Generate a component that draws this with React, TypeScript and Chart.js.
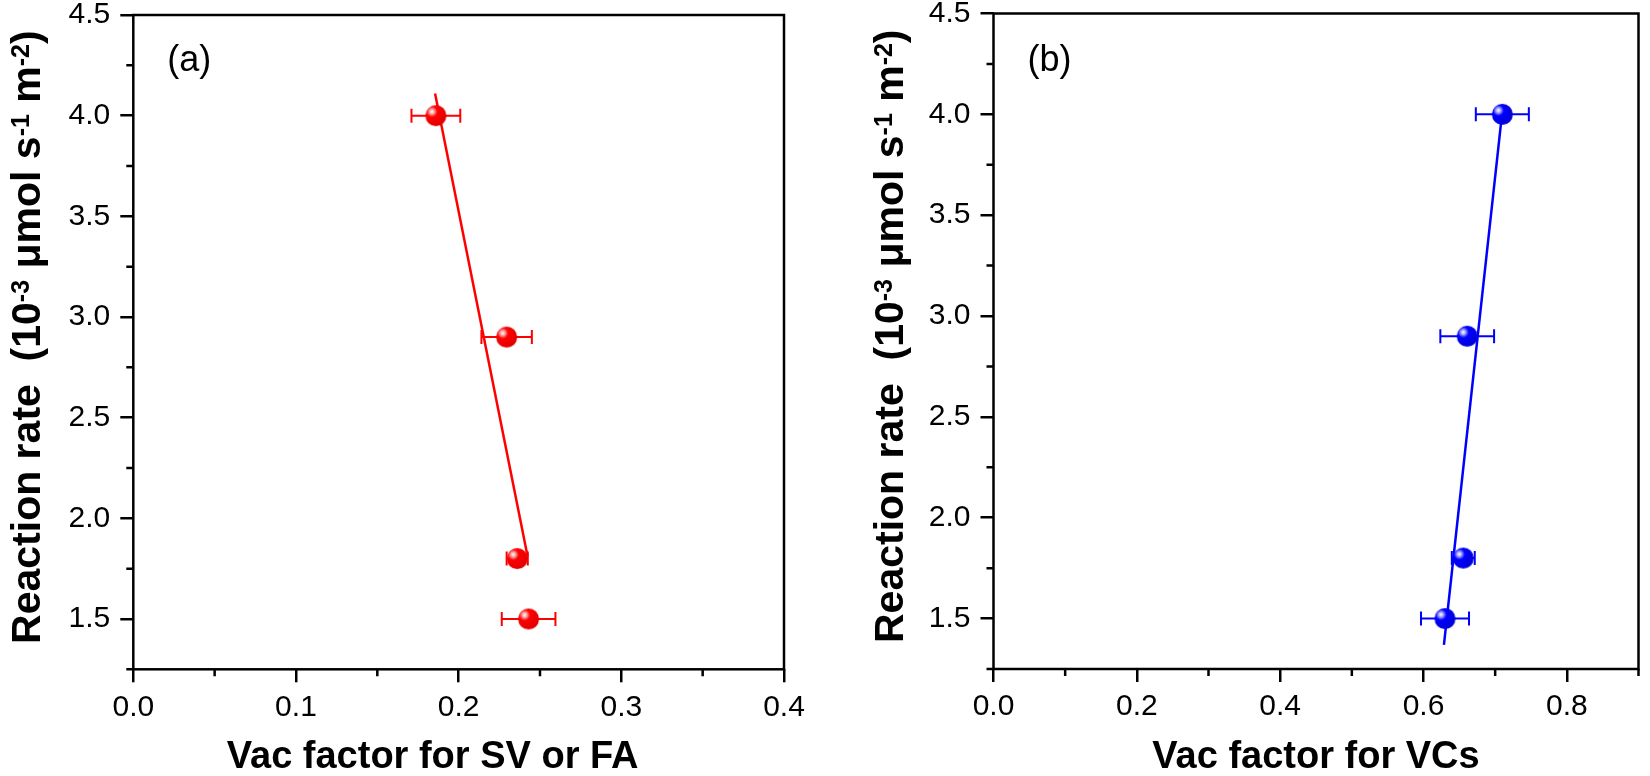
import { useEffect, useRef } from "react";
import { Chart, registerables } from "chart.js";

Chart.register(...registerables);

// ---------- data ----------
const yTickValues = [1.5, 2.0, 2.5, 3.0, 3.5, 4.0, 4.5];
const yMinorValues = [1.25, 1.75, 2.25, 2.75, 3.25, 3.75, 4.25];
const rateValues = [4.0, 2.9, 1.8, 1.5];

const xTicksA = [0, 0.1, 0.2, 0.3, 0.4];
const xMinorA = [0.05, 0.15, 0.25, 0.35];
const vacSVFA = [0.186, 0.2295, 0.236, 0.243];
const vacSVFAErr = [0.015, 0.0155, 0.0065, 0.0165];
const fitAX = [0.1855, 0.2424];
const fitAY = [4.11, 1.81];

const xTicksB = [0, 0.2, 0.4, 0.6, 0.8];
const xMinorB = [0.1, 0.3, 0.5, 0.7, 0.9];
const vacVCs = [0.71, 0.661, 0.6555, 0.63];
const vacVCsErr = [0.037, 0.0375, 0.016, 0.0335];
const fitBX = [0.6285, 0.7095];
const fitBY = [1.37, 4.0];

const yTitleRuns: [string, boolean][] = [
  ["Reaction rate  (10", false],
  ["-3", true],
  [" \u03bcmol s", false],
  ["-1", true],
  [" m", false],
  ["-2", true],
  [")", false],
];

// ---------- styling ----------
const FONT = "'Liberation Sans', Arial, Helvetica, sans-serif";
const CANVAS_H = 776;

function makeSphere(base: string, light: string, dark: string, r: number) {
  const size = Math.ceil(r * 2 + 2);
  const c = document.createElement("canvas");
  c.width = size;
  c.height = size;
  const ctx = c.getContext("2d")!;
  const cx = size / 2;
  const cy = size / 2;
  const hx = cx - r * 0.38;
  const hy = cy - r * 0.38;
  const g = ctx.createRadialGradient(hx, hy, 0, hx, hy, r * 1.45);
  g.addColorStop(0, "#ffffff");
  g.addColorStop(0.13, light);
  g.addColorStop(0.36, base);
  g.addColorStop(1, dark);
  ctx.fillStyle = g;
  ctx.beginPath();
  ctx.arc(cx, cy, r, 0, Math.PI * 2);
  ctx.fill();
  return c;
}

const decorPlugin = {
  id: "decor",
  beforeDatasetsDraw(chart: any, _args: any, opts: any) {
    const { ctx } = chart;
    const xs = chart.scales.x;
    const ys = chart.scales.y;
    ctx.save();
    ctx.strokeStyle = opts.color;
    ctx.lineWidth = 2;
    opts.xs.forEach((xv: number, i: number) => {
      const py = ys.getPixelForValue(opts.ys[i]);
      const lo = xs.getPixelForValue(xv - opts.errs[i]);
      const hi = xs.getPixelForValue(xv + opts.errs[i]);
      ctx.beginPath();
      ctx.moveTo(lo, py);
      ctx.lineTo(hi, py);
      ctx.moveTo(lo, py - 7);
      ctx.lineTo(lo, py + 7);
      ctx.moveTo(hi, py - 7);
      ctx.lineTo(hi, py + 7);
      ctx.stroke();
    });
    ctx.restore();
  },
  afterDraw(chart: any, _args: any, opts: any) {
    const { ctx, chartArea } = chart;
    const { left, right, top, bottom } = chartArea;
    const xs = chart.scales.x;
    const ys = chart.scales.y;
    ctx.save();
    // frame
    ctx.strokeStyle = "#000";
    ctx.lineWidth = 2.5;
    ctx.lineJoin = "miter";
    ctx.strokeRect(left, top, right - left, bottom - top);
    // minor ticks
    ctx.beginPath();
    opts.yMinor.forEach((v: number) => {
      const p = ys.getPixelForValue(v);
      ctx.moveTo(left, p);
      ctx.lineTo(left - 7, p);
    });
    opts.xMinor.forEach((v: number) => {
      const p = xs.getPixelForValue(v);
      ctx.moveTo(p, bottom);
      ctx.lineTo(p, bottom + 7);
    });
    ctx.stroke();
    ctx.fillStyle = "#000";
    // panel label
    ctx.font = `36px ${FONT}`;
    ctx.textBaseline = "middle";
    ctx.textAlign = "left";
    ctx.fillText(opts.label, left + 34, 61);
    // x title
    ctx.font = `bold 38px ${FONT}`;
    ctx.textAlign = "center";
    ctx.textBaseline = "alphabetic";
    ctx.fillText(opts.xTitle, (left + right) / 2 + opts.xTitleDx, 768);
    // y title with superscripts
    ctx.textAlign = "left";
    const mainFont = `bold 41px ${FONT}`;
    const supFont = `bold 25px ${FONT}`;
    let total = 0;
    const widths = opts.yTitle.map(([t, sup]: [string, boolean]) => {
      ctx.font = sup ? supFont : mainFont;
      const w = ctx.measureText(t).width;
      total += w;
      return w;
    });
    ctx.translate(opts.yTitleX, (top + bottom) / 2 - 5);
    ctx.rotate(-Math.PI / 2);
    let x = -total / 2;
    opts.yTitle.forEach(([t, sup]: [string, boolean], i: number) => {
      ctx.font = sup ? supFont : mainFont;
      ctx.fillText(t, x, sup ? -11 : 0);
      x += widths[i];
    });
    ctx.restore();
  },
};

type Panel = {
  left: number;
  top: number;
  right: number;
  bottom: number;
  width: number;
  xMax: number;
  xTicks: number[];
  xMinor: number[];
  xs: number[];
  errs: number[];
  fitX: number[];
  fitY: number[];
  color: string;
  light: string;
  dark: string;
  label: string;
  xTitle: string;
  xTitleDx: number;
  yTitleX: number;
};

const panelA: Panel = {
  left: 133.3,
  top: 15,
  right: 784,
  bottom: 669.3,
  width: 820,
  xMax: 0.4,
  xTicks: xTicksA,
  xMinor: xMinorA,
  xs: vacSVFA,
  errs: vacSVFAErr,
  fitX: fitAX,
  fitY: fitAY,
  color: "#ff0000",
  light: "#ffb8b8",
  dark: "#e00000",
  label: "(a)",
  xTitle: "Vac factor for SV or FA",
  xTitleDx: -26,
  yTitleX: 40,
};

const panelB: Panel = {
  left: 173.5,
  top: 13.5,
  right: 827.7,
  bottom: 669,
  width: 830,
  xMax: 0.9,
  xTicks: xTicksB,
  xMinor: xMinorB,
  xs: vacVCs,
  errs: vacVCsErr,
  fitX: fitBX,
  fitY: fitBY,
  color: "#0000ff",
  light: "#b8b8ff",
  dark: "#0000d8",
  label: "(b)",
  xTitle: "Vac factor for VCs",
  xTitleDx: 0,
  yTitleX: 83,
};

function makeConfig(p: Panel): any {
  const sphere = makeSphere(p.color, p.light, p.dark, 10.5);
  const gridOpts = {
    display: true,
    drawOnChartArea: false,
    drawTicks: true,
    tickLength: 13,
    tickWidth: 2.5,
    tickColor: "#000",
    color: "#000",
    lineWidth: 2.5,
  };
  return {
    type: "scatter",
    data: {
      datasets: [
        {
          label: "data",
          data: p.xs.map((x, i) => ({ x, y: rateValues[i] })),
          pointStyle: sphere,
          pointRadius: 10.5,
          showLine: false,
          backgroundColor: p.color,
          borderColor: p.color,
        },
        {
          label: "fit",
          data: p.fitX.map((x, i) => ({ x, y: p.fitY[i] })),
          showLine: true,
          pointRadius: 0,
          borderColor: p.color,
          borderWidth: 2.5,
          fill: false,
        },
      ],
    },
    options: {
      responsive: false,
      animation: false,
      events: [],
      layout: {
        padding: { left: 0, top: p.top, right: p.width - p.right, bottom: 0 },
      },
      plugins: {
        legend: { display: false },
        tooltip: { enabled: false },
        decor: {
          color: p.color,
          xs: p.xs,
          ys: rateValues,
          errs: p.errs,
          yMinor: yMinorValues,
          xMinor: p.xMinor,
          label: p.label,
          xTitle: p.xTitle,
          xTitleDx: p.xTitleDx,
          yTitle: yTitleRuns,
          yTitleX: p.yTitleX,
        },
      },
      scales: {
        x: {
          type: "linear",
          position: "bottom",
          min: 0,
          max: p.xMax,
          border: { display: false },
          grid: gridOpts,
          afterBuildTicks: (s: any) => {
            s.ticks = p.xTicks.map((v) => ({ value: v }));
          },
          afterFit: (s: any) => {
            s.height = CANVAS_H - p.bottom;
            s.paddingLeft = 0;
            s.paddingRight = 0;
          },
          ticks: {
            autoSkip: false,
            maxRotation: 0,
            padding: 7,
            color: "#000",
            font: { family: FONT, size: 30 },
            callback: (v: any) => Number(v).toFixed(1),
          },
        },
        y: {
          type: "linear",
          position: "left",
          min: 1.25,
          max: 4.5,
          border: { display: false },
          grid: gridOpts,
          afterBuildTicks: (s: any) => {
            s.ticks = yTickValues.map((v) => ({ value: v }));
          },
          afterFit: (s: any) => {
            s.width = p.left;
            s.paddingTop = 0;
            s.paddingBottom = 0;
          },
          ticks: {
            autoSkip: false,
            padding: 10,
            color: "#000",
            font: { family: FONT, size: 30 },
            callback: (v: any) => Number(v).toFixed(1),
          },
        },
      },
    },
    plugins: [decorPlugin],
  };
}

export default function App() {
  const refA = useRef<HTMLCanvasElement>(null);
  const refB = useRef<HTMLCanvasElement>(null);
  useEffect(() => {
    const a = new Chart(refA.current!, makeConfig(panelA));
    const b = new Chart(refB.current!, makeConfig(panelB));
    return () => {
      a.destroy();
      b.destroy();
    };
  }, []);
  return (
    <div
      style={{
        position: "fixed",
        left: 0,
        top: 0,
        width: 1650,
        height: 776,
        background: "#fff",
        overflow: "hidden",
      }}
    >
      <canvas
        ref={refA}
        width={820}
        height={776}
        style={{ position: "absolute", left: 0, top: 0, width: 820, height: 776 }}
      />
      <canvas
        ref={refB}
        width={830}
        height={776}
        style={{ position: "absolute", left: 820, top: 0, width: 830, height: 776 }}
      />
    </div>
  );
}
